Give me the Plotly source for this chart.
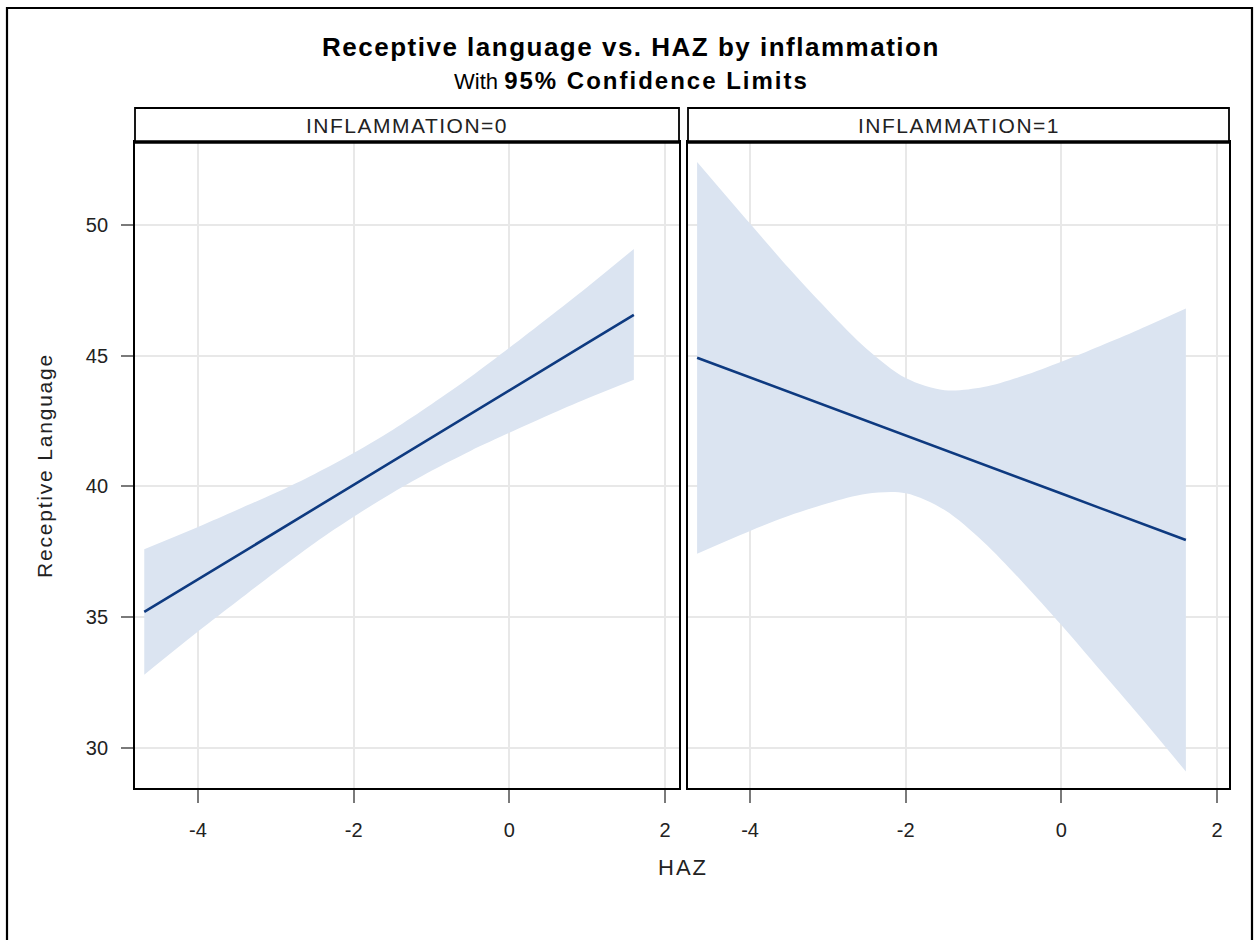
import plotly.graph_objects as go

# ---------------- data ----------------
haz_0 = [-4.69, -4.0, -3.5, -3.0, -2.5, -2.0, -1.5, -1.0, -0.5, 0.0, 0.5, 1.0, 1.6]
fit_0 = [35.2, 36.45, 37.35, 38.25, 39.16, 40.06, 40.96, 41.87, 42.77, 43.67, 44.58, 45.48, 46.56]
lcl_0 = [32.8, 34.45, 35.6, 36.74, 37.84, 38.84, 39.76, 40.6, 41.36, 42.05, 42.72, 43.36, 44.08]
ucl_0 = [37.6, 38.45, 39.1, 39.76, 40.48, 41.28, 42.16, 43.14, 44.18, 45.3, 46.45, 47.62, 49.08]

haz_1 = [-4.68, -4.0, -3.5, -3.0, -2.5, -2.0, -1.5, -1.0, -0.5, 0.0, 0.5, 1.0, 1.6]
fit_1 = [44.92, 44.17, 43.61, 43.06, 42.5, 41.95, 41.39, 40.84, 40.28, 39.73, 39.17, 38.62, 37.95]
lcl_1 = [37.43, 38.3, 38.88, 39.36, 39.72, 39.74, 39.1, 37.88, 36.35, 34.7, 32.97, 31.24, 29.1]
ucl_1 = [52.41, 50.05, 48.34, 46.74, 45.26, 44.15, 43.68, 43.8, 44.22, 44.77, 45.37, 46.0, 46.8]

panel_labels = ["INFLAMMATION=0", "INFLAMMATION=1"]
x_ticks = [-4, -2, 0, 2]
x_ticktext = ["-4", "-2", "0", "2"]
y_ticks = [30, 35, 40, 45, 50]

title = "Receptive language vs. HAZ by inflammation"
subtitle_plain = "With"
subtitle_bold = "95% Confidence Limits"
x_title = "HAZ"
y_title = "Receptive Language"

# ---------------- layout geometry ----------------
W, H = 1258, 940
FONT = "Arial, 'Liberation Sans', sans-serif"
BAND = "rgb(219,228,241)"
LINE = "rgb(14,58,128)"
TXT = "#222222"


def px(x):
    return x / W


def py(y):
    return (H - y) / H


def spaced(text, sp):
    return "<span style='letter-spacing:%spx'>%s</span>" % (sp, text)


panels = [
    dict(x0=135, x1=679, xr=[-4.809, 2.18]),
    dict(x0=688, x1=1229, xr=[-4.797, 2.154]),
]
plot_top, plot_bot = 142, 788
head_top = 108

fig = go.Figure()

series = [(haz_0, fit_0, lcl_0, ucl_0), (haz_1, fit_1, lcl_1, ucl_1)]
for i, (hx, fy, lo, hi) in enumerate(series):
    xa = "x" if i == 0 else "x2"
    ya = "y" if i == 0 else "y2"
    fig.add_trace(go.Scatter(
        x=hx, y=lo, mode="lines", line=dict(width=0, shape="spline", smoothing=0.9),
        hoverinfo="skip", showlegend=False, xaxis=xa, yaxis=ya))
    fig.add_trace(go.Scatter(
        x=hx, y=hi, mode="lines", line=dict(width=0, shape="spline", smoothing=0.9),
        fill="tonexty", fillcolor=BAND,
        hoverinfo="skip", showlegend=False, xaxis=xa, yaxis=ya))
    fig.add_trace(go.Scatter(
        x=hx, y=fy, mode="lines", line=dict(color=LINE, width=2.6),
        showlegend=False, xaxis=xa, yaxis=ya))

common_x = dict(
    tickvals=x_ticks, ticktext=x_ticktext, ticks="outside", ticklen=13,
    tickwidth=2, tickcolor="#7a7a7a", ticklabelstandoff=10,
    showgrid=True, gridcolor="#E8E8E8", gridwidth=1.5,
    zeroline=False, showline=True, linecolor="black", linewidth=1.8,
    mirror=True, tickfont=dict(family=FONT, size=20, color=TXT),
)
common_y = dict(
    tickvals=y_ticks, range=[28.47, 53.17], showgrid=True, gridcolor="#E8E8E8",
    gridwidth=1.5, zeroline=False, showline=True, linecolor="black",
    linewidth=1.8, mirror=True,
    domain=[py(plot_bot), py(plot_top)],
)

fig.update_layout(
    width=W, height=H,
    margin=dict(l=0, r=0, t=0, b=0),
    paper_bgcolor="white", plot_bgcolor="white",
    font=dict(family=FONT, color=TXT),
    xaxis=dict(common_x, domain=[px(panels[0]["x0"]), px(panels[0]["x1"])],
               range=panels[0]["xr"], anchor="y"),
    xaxis2=dict(common_x, domain=[px(panels[1]["x0"]), px(panels[1]["x1"])],
                range=panels[1]["xr"], anchor="y2"),
    yaxis=dict(common_y, anchor="x", ticks="outside", ticklen=12,
               tickwidth=2, tickcolor="#7a7a7a", ticklabelstandoff=9,
               tickfont=dict(family=FONT, size=20, color=TXT)),
    yaxis2=dict(common_y, anchor="x2", matches="y", showticklabels=False,
                ticks=""),
)

shapes = []
annotations = []
for p, lab in zip(panels, panel_labels):
    shapes.append(dict(type="rect", xref="paper", yref="paper",
                       x0=px(p["x0"]), x1=px(p["x1"]),
                       y0=py(plot_top), y1=py(head_top),
                       line=dict(color="black", width=1.8), fillcolor="white"))
    shapes.append(dict(type="line", xref="paper", yref="paper",
                       x0=px(p["x0"]), x1=px(p["x1"]),
                       y0=py(plot_top), y1=py(plot_top),
                       line=dict(color="black", width=3.5)))
    annotations.append(dict(xref="paper", yref="paper",
                            x=px((p["x0"] + p["x1"]) / 2),
                            y=py((plot_top + head_top) / 2),
                            text=spaced(lab, 1.5), showarrow=False,
                            font=dict(family=FONT, size=21, color=TXT),
                            xanchor="center", yanchor="middle"))

# outer frame
shapes.append(dict(type="rect", xref="paper", yref="paper",
                   x0=px(7), x1=px(1252), y0=-0.05, y1=py(8),
                   line=dict(color="black", width=2.2), layer="below"))

annotations += [
    dict(xref="paper", yref="paper", x=px(631), y=py(47),
         text="<b>" + spaced(title, 1.5) + "</b>",
         showarrow=False, font=dict(family=FONT, size=26, color="black"),
         xanchor="center", yanchor="middle"),
    dict(xref="paper", yref="paper", x=px(631), y=py(80),
         text="<span style='font-size:22px'>" + subtitle_plain + " </span><b>"
              + spaced(subtitle_bold, 2) + "</b>",
         showarrow=False, font=dict(family=FONT, size=24, color="black"),
         xanchor="center", yanchor="middle"),
    dict(xref="paper", yref="paper", x=px(683), y=py(867), text=spaced(x_title, 2),
         showarrow=False, font=dict(family=FONT, size=22, color=TXT),
         xanchor="center", yanchor="middle"),
    dict(xref="paper", yref="paper", x=px(44), y=py(466), text=spaced(y_title, 1.8),
         showarrow=False, textangle=-90,
         font=dict(family=FONT, size=21, color=TXT),
         xanchor="center", yanchor="middle"),
]

fig.update_layout(shapes=shapes, annotations=annotations)
fig.write_html("out.html",
               config={"displayModeBar": False},
               post_script="document.body.style.margin='0px';"
                           "document.body.style.overflow='hidden';")
